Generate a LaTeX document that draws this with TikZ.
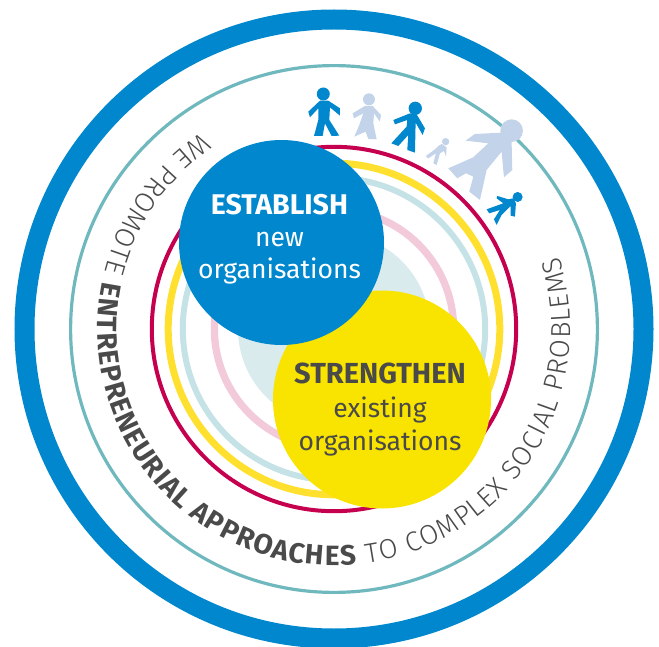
\documentclass[tikz,border=0pt]{standalone}
\usepackage{fontspec}
\setmainfont{Fira Sans}
\newfontfamily\lightfont{Fira Sans Light}
\usetikzlibrary{decorations.text}
\definecolor{ringblue}{HTML}{0087CD}
\definecolor{sunyellow}{HTML}{F8E400}
\definecolor{ringyellow}{HTML}{FFE02E}
\definecolor{crimson}{HTML}{C4004F}
\definecolor{tealline}{HTML}{6FB8BE}
\definecolor{lightteal}{HTML}{C5E2E6}
\definecolor{ringpink}{HTML}{F2CADA}
\definecolor{corefill}{HTML}{DAEBEE}
\definecolor{paleperson}{HTML}{C3D3EA}
\definecolor{darktext}{HTML}{4A4A4A}
\tikzset{
  ringline/.style={draw=#1,fill=none},
  bigdisc/.style={circle,fill=#1,inner sep=0pt},
  disctext/.style={inner sep=0pt,align=center,font=\fontsize{26.5}{33}\selectfont},
  figblue/.style={fill=ringblue},
  figpale/.style={fill=paleperson}
}
\begin{document}
\begin{tikzpicture}[x=1pt,y=-1pt]
\useasboundingbox (0,0) rectangle (659,647);
\coordinate (c) at (334,329);
\draw[ringline=ringblue,line width=20pt] (c) circle (309.5);
\draw[ringline=tealline,line width=3.2pt] (c) circle (263.4);
\fill[corefill] (c) circle (96);
\draw[ringline=ringpink,line width=7.3pt] (c) circle (119.6);
\draw[ringline=lightteal,line width=6pt] (c) circle (151.2);
\draw[ringline=ringyellow,line width=7pt] (c) circle (165.8);
\draw[ringline=crimson,line width=4pt] (c) circle (182.2);
\path (c) ++(-124:236.5) coordinate (textstart);
\path[postaction={decorate,decoration={text along path,text align={fit to path},
  text color=darktext,
  text={|\fontsize{27.5}{27}\lightfont|WE PROMOTE |\fontsize{28}{27}\selectfont\bfseries|ENTREPRENEURIAL APPROACHES|\fontsize{27.5}{27}\lightfont| TO COMPLEX SOCIAL PROBLEMS}}}]
  (textstart) arc[start angle=-124,end angle=-378,radius=236.5];
\node[bigdisc=sunyellow,minimum size=218pt] (strengthen) at (382,399.5) {};
\node[bigdisc=ringblue,minimum size=205pt] (establish) at (281.5,242.5) {};
\node[disctext,text=darktext] (strengthenlabel) at (380,410) {{\fontsize{29}{33}\selectfont\bfseries STRENGTHEN}\\[0.5pt]existing\\[0.5pt]organisations};
\node[disctext,text=white] (establishlabel) at (279.5,239) {{\fontsize{28.5}{33}\selectfont\bfseries ESTABLISH}\\[-1pt]new\\[-1pt]organisations};
% people, traced in 3x zoom coordinates
\begin{scope}[x=0.3333pt,y=-0.3333pt]
\begin{scope}[shift={(900,210)}]
\fill[figblue] (70,72) circle (19.5);
\fill[figblue] (60,92)--(85,92)--(120,115)--(120,137)--(90,112)--(88,150)--(118,197)--(95,198)--(75,160)--(68,198)--(42,198)--(55,150)--(55,115)--(30,142)--(25,125)--cycle;
\fill[figpale] (207,88) circle (18);
\fill[figpale] (195,108)--(218,108)--(243,135)--(240,155)--(222,130)--(220,160)--(230,208)--(205,207)--(197,185)--(163,200)--(178,165)--(190,130)--(162,145)--(158,130)--cycle;
\fill[figblue] (346,115) circle (20);
\fill[figblue] (330,130)--(350,133)--(375,175)--(368,195)--(347,158)--(345,248)--(322,240)--(325,195)--(295,228)--(274,220)--(320,170)--(322,150)--(285,163)--(280,150)--cycle;
\fill[figpale] (437,215) circle (11);
\fill[figpale] (425,222)--(440,232)--(438,260)--(432,243)--(420,250)--(410,285)--(400,280)--(408,250)--(385,265)--(378,258)--(405,238)--(415,228)--cycle;
\fill[figpale] (635,182) circle (34);
\fill[figpale] (497,212)--(525,192)--(605,188)--(635,215)--(637,300)--(612,322)--(605,245)--(560,300)--(540,390)--(508,365)--(520,320)--(498,310)--(472,325)--(445,295)--(520,262)--(565,220)--cycle;
\fill[figblue] (653,381) circle (15);
\fill[figblue] (592,378)--(625,388)--(640,385)--(648,400)--(645,440)--(632,437)--(632,408)--(605,435)--(590,465)--(582,448)--(600,420)--(568,430)--(560,418)--(610,400)--(590,385)--cycle;
\end{scope}
\end{scope}
\end{tikzpicture}
\end{document}
